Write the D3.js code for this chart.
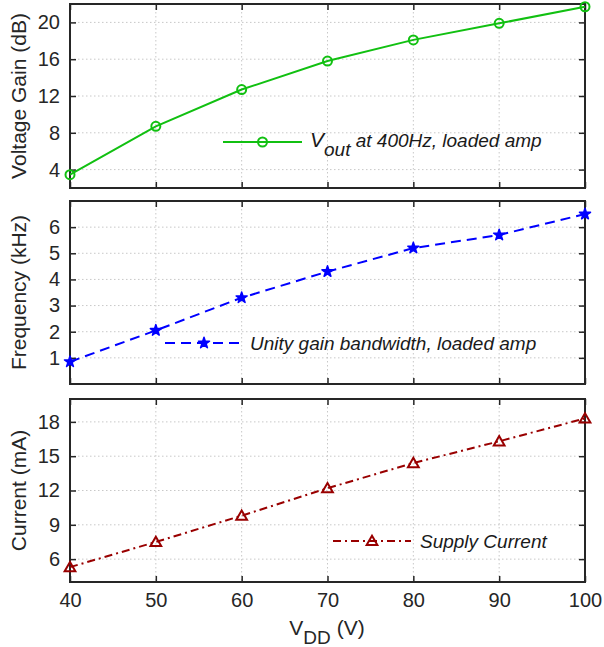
<!DOCTYPE html>
<html>
<head>
<meta charset="utf-8">
<script src="https://cdn.jsdelivr.net/npm/d3@7"></script>
<style>
  body { margin: 0; background: #fff; }
  svg { font-family: "Liberation Sans", Arial, sans-serif; }
</style>
</head>
<body>
<div id="chart"></div>
<script>
const vdd = [40, 50, 60, 70, 80, 90, 100];
const gain = [3.45, 8.7, 12.7, 15.8, 18.1, 19.9, 21.7];
const freq = [0.85, 2.05, 3.3, 4.3, 5.2, 5.7, 6.5];
const current = [5.3, 7.5, 9.8, 12.2, 14.4, 16.3, 18.3];

const xTicks = [40, 50, 60, 70, 80, 90, 100];
const gainTicks = [4, 8, 12, 16, 20];
const freqTicks = [1, 2, 3, 4, 5, 6];
const currentTicks = [6, 9, 12, 15, 18];

const W = 604, H = 647;
const left = 70, right = 585;
const tickFont = 20, labelFont = 21;

const svg = d3.select("#chart").append("svg")
    .attr("width", W)
    .attr("height", H);

const x = d3.scaleLinear().domain([40, 100]).range([left, right]);

const panels = [
    { top: 4, bottom: 188, domain: [2, 22], ticks: gainTicks, values: gain,
      color: "#11c011", dash: null, marker: "circle", label: "Voltage Gain (dB)",
      legend: { x1: 223, x2: 302, y: 142 } },
    { top: 201, bottom: 384, domain: [0, 7], ticks: freqTicks, values: freq,
      color: "#0000ff", dash: "10,6", marker: "star", label: "Frequency (kHz)",
      legend: { x1: 165, x2: 243, y: 343 } },
    { top: 399, bottom: 582, domain: [4, 20], ticks: currentTicks, values: current,
      color: "#990000", dash: "8,4,2,4", marker: "triangle", label: "Current (mA)",
      legend: { x1: 333, x2: 411, y: 541 } }
];

function drawMarker(g, type, color, cx, cy) {
    if (type === "circle") {
        g.append("circle").attr("cx", cx).attr("cy", cy).attr("r", 4.5)
            .attr("fill", "none").attr("stroke", color).attr("stroke-width", 2);
    } else if (type === "star") {
        g.append("path").attr("d", d3.symbol(d3.symbolStar, 38)())
            .attr("transform", `translate(${cx},${cy})`)
            .attr("fill", color).attr("stroke", color).attr("stroke-width", 1.5)
            .attr("stroke-linejoin", "round");
    } else {
        g.append("path").attr("d", d3.symbol(d3.symbolTriangle, 50)())
            .attr("transform", `translate(${cx},${cy + 1})`)
            .attr("fill", "none").attr("stroke", color).attr("stroke-width", 2);
    }
}

panels.forEach((p, i) => {
    const y = d3.scaleLinear().domain(p.domain).range([p.bottom, p.top]);
    const g = svg.append("g");

    // grid
    g.append("g").selectAll("line").data(xTicks.slice(1, -1)).join("line")
        .attr("x1", d => x(d)).attr("x2", d => x(d))
        .attr("y1", p.top).attr("y2", p.bottom)
        .attr("stroke", "#c8c8c8").attr("stroke-width", 1).attr("stroke-dasharray", "1.5,2.5");
    g.append("g").selectAll("line").data(p.ticks).join("line")
        .attr("x1", left).attr("x2", right)
        .attr("y1", d => y(d)).attr("y2", d => y(d))
        .attr("stroke", "#c8c8c8").attr("stroke-width", 1).attr("stroke-dasharray", "1.5,2.5");

    // axes with inward ticks
    const yAxis = g.append("g").attr("transform", `translate(${left},0)`)
        .call(d3.axisLeft(y).tickValues(p.ticks).tickFormat(d3.format("d"))
            .tickSizeInner(-6).tickSizeOuter(0).tickPadding(10));
    yAxis.select(".domain").remove();
    yAxis.selectAll("text").attr("font-size", tickFont).attr("fill", "#262626")
        .attr("font-family", "'Liberation Sans', Arial, sans-serif");
    yAxis.selectAll("line").attr("stroke", "#262626").attr("stroke-width", 1.5);

    const yAxisR = g.append("g").attr("transform", `translate(${right},0)`)
        .call(d3.axisRight(y).tickValues(p.ticks).tickSizeInner(-6).tickSizeOuter(0).tickFormat(""));
    yAxisR.select(".domain").remove();
    yAxisR.selectAll("line").attr("stroke", "#262626").attr("stroke-width", 1.5);

    const xAxisT = g.append("g").attr("transform", `translate(0,${p.top})`)
        .call(d3.axisTop(x).tickValues(xTicks).tickSizeInner(-6).tickSizeOuter(0).tickFormat(""));
    xAxisT.select(".domain").remove();
    xAxisT.selectAll("line").attr("stroke", "#262626").attr("stroke-width", 1.5);

    const xAxisB = g.append("g").attr("transform", `translate(0,${p.bottom})`)
        .call(d3.axisBottom(x).tickValues(xTicks).tickSizeInner(-6).tickSizeOuter(0).tickPadding(11));
    xAxisB.select(".domain").remove();
    xAxisB.selectAll("line").attr("stroke", "#262626").attr("stroke-width", 1.5);
    if (i === 2) {
        xAxisB.selectAll("text").attr("font-size", tickFont).attr("fill", "#262626")
            .attr("font-family", "'Liberation Sans', Arial, sans-serif");
    } else {
        xAxisB.selectAll("text").remove();
    }

    // frame
    g.append("rect").attr("x", left).attr("y", p.top)
        .attr("width", right - left).attr("height", p.bottom - p.top)
        .attr("fill", "none").attr("stroke", "#262626").attr("stroke-width", 2);

    // series
    const line = d3.line().x((d, j) => x(vdd[j])).y(d => y(d));
    g.append("path").datum(p.values).attr("d", line)
        .attr("fill", "none").attr("stroke", p.color).attr("stroke-width", 2)
        .attr("stroke-dasharray", p.dash);
    p.values.forEach((v, j) => drawMarker(g, p.marker, p.color, x(vdd[j]), y(v)));

    // y label
    g.append("text")
        .attr("transform", `translate(26,${(p.top + p.bottom) / 2}) rotate(-90)`)
        .attr("text-anchor", "middle")
        .attr("font-size", labelFont).attr("fill", "#262626")
        .text(p.label);

    // legend
    const L = p.legend;
    g.append("line").attr("x1", L.x1).attr("x2", L.x2).attr("y1", L.y).attr("y2", L.y)
        .attr("stroke", p.color).attr("stroke-width", 2).attr("stroke-dasharray", p.dash);
    drawMarker(g, p.marker, p.color, (L.x1 + L.x2) / 2, L.y);
});

// legend texts
const legText = svg.append("g").attr("font-size", 19).attr("font-style", "italic").attr("fill", "#1a1a1a");
const t1 = legText.append("text").attr("x", 310).attr("y", 147);
t1.append("tspan").attr("font-size", 21).text("V");
t1.append("tspan").attr("dy", 9).attr("font-size", 19).text("out");
t1.append("tspan").attr("dy", -9).text(" at 400Hz, loaded amp");
legText.append("text").attr("x", 250).attr("y", 350).text("Unity gain bandwidth, loaded amp");
legText.append("text").attr("x", 420).attr("y", 548).text("Supply Current");

// x label
const xl = svg.append("text").attr("x", 327).attr("y", 635)
    .attr("text-anchor", "middle").attr("font-size", labelFont).attr("fill", "#262626");
xl.append("tspan").text("V");
xl.append("tspan").attr("dy", 9).attr("font-size", 19).text("DD");
xl.append("tspan").attr("dy", -9).text(" (V)");
</script>
</body>
</html>
